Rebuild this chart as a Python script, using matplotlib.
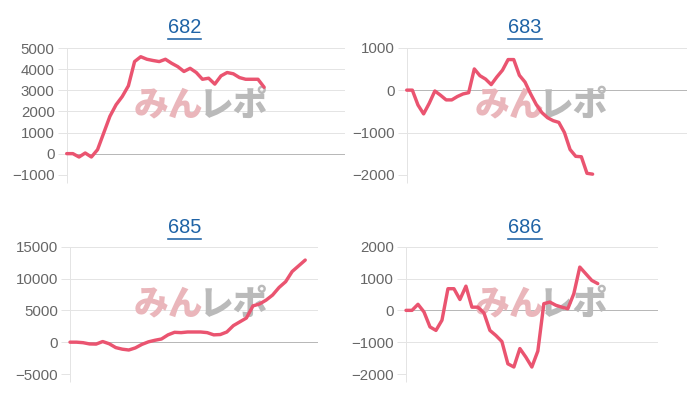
import matplotlib
matplotlib.use("Agg")
import matplotlib.pyplot as plt
from matplotlib.lines import Line2D

plt.rcParams['font.family'] = ['Liberation Sans', 'DejaVu Sans']

# machine numbers and their running totals
titles = ["682", "683", "685", "686"]

vals_682 = [0, 0, -160, 30, -160, 190, 980, 1770, 2320, 2710, 3220, 4370, 4600, 4480,
            4420, 4370, 4480, 4290, 4130, 3900, 4050, 3850, 3530, 3580, 3300, 3690,
            3850, 3790, 3610, 3530, 3530, 3530, 3150]
vals_683 = [0, 0, -350, -560, -310, -20, -120, -230, -230, -150, -90, -60, 500, 340,
            260, 130, 310, 470, 720, 720, 350, 190, -90, -340, -530, -650, -720, -760,
            -1000, -1400, -1560, -1570, -1960, -1980]
vals_685 = [0, 0, -80, -280, -300, 100, -250, -850, -1100, -1230, -900, -350, 50, 300,
            500, 1150, 1550, 1500, 1600, 1600, 1600, 1500, 1150, 1200, 1600, 2600, 3200,
            3800, 5700, 6000, 6600, 7400, 8600, 9500, 11100, 12000, 12900]
vals_686 = [0, 0, 190, -50, -520, -630, -310, 680, 680, 340, 760, 100, 100, -80, -630,
            -790, -980, -1680, -1780, -1200, -1470, -1780, -1280, 210, 260, 160, 100, 50,
            520, 1360, 1150, 940, 840]

series = [vals_682, vals_683, vals_685, vals_686]
yticks = [[-1000, 0, 1000, 2000, 3000, 4000, 5000],
          [-2000, -1000, 0, 1000],
          [-5000, 0, 5000, 10000, 15000],
          [-2000, -1000, 0, 1000, 2000]]
xmax = [45.1, 49.7, 38.0, 42.1]

W, H = 700, 400
# axes boxes in pixels: left, right, top, bottom
boxes = [(66.7, 345, 48.3, 174.7),
         (406.7, 686.7, 47.7, 175),
         (70, 318.3, 246.7, 374),
         (406, 658.3, 246.7, 374)]
title_pos = [(184.7, 32.7), (525, 32.7), (184.7, 232.7), (525, 232.7)]
mark_pos = [(201.5, 105), (541.7, 105), (201.5, 304), (541.7, 304)]

line_color = "#ea5470"
grid_color = "#e4e4e4"
zero_color = "#b8b8b8"
link_color = "#1f63a6"

fig = plt.figure(figsize=(7, 4), dpi=100)
px = 72 / 100  # points per pixel

titles_txt = []
for i in range(4):
    l, r, t, b = boxes[i]
    ax = fig.add_axes([l / W, 1 - b / H, (r - l) / W, (b - t) / H])
    ax.set_facecolor("none")
    vals = series[i]
    ax.plot(range(len(vals)), vals, color=line_color, lw=3.4 * px,
            solid_joinstyle="round", solid_capstyle="round", zorder=3, clip_on=False)
    ax.set_xlim(0, xmax[i])
    ax.set_ylim(yticks[i][0], yticks[i][-1])
    ax.set_yticks(yticks[i])
    ax.set_xticks([0])
    ax.set_xticklabels([""])
    for s in ["top", "right", "bottom"]:
        ax.spines[s].set_visible(False)
    ax.spines["left"].set_color(grid_color)
    ax.spines["left"].set_linewidth(1 * px)
    for v in yticks[i]:
        ax.axhline(v, color=zero_color if v == 0 else grid_color,
                   lw=1 * px, zorder=0.5)
    ax.tick_params(axis="y", length=9 * px, width=1 * px, color=grid_color,
                   pad=3 * px, labelsize=15 * px, labelcolor="#666666")
    ax.tick_params(axis="x", length=8 * px, width=1 * px, color=grid_color)

    # watermark
    mx, my = mark_pos[i]
    ax.text((mx + 2) / W, 1 - my / H, "みん", transform=fig.transFigure,
            ha="right", va="center", fontsize=25, fontweight="heavy",
            family=["Noto Sans CJK JP"], color="#eab6bb", zorder=1)
    ax.text((mx - 3) / W, 1 - my / H, "レポ", transform=fig.transFigure,
            ha="left", va="center", fontsize=25, fontweight="heavy",
            family=["Noto Sans CJK JP"], color="#bababa", zorder=1)

    tx, ty = title_pos[i]
    titles_txt.append(fig.text(tx / W, 1 - ty / H, titles[i], ha="center",
                               va="baseline", fontsize=20 * px, color=link_color))

# underline the titles like links
fig.canvas.draw()
for t in titles_txt:
    bb = t.get_window_extent()
    y = (bb.y0 - 2.0) / H
    fig.add_artist(Line2D([bb.x0 / W, bb.x1 / W], [y, y], color=link_color,
                          lw=1.6 * px, transform=fig.transFigure))

fig.savefig("out.png", dpi=100)
